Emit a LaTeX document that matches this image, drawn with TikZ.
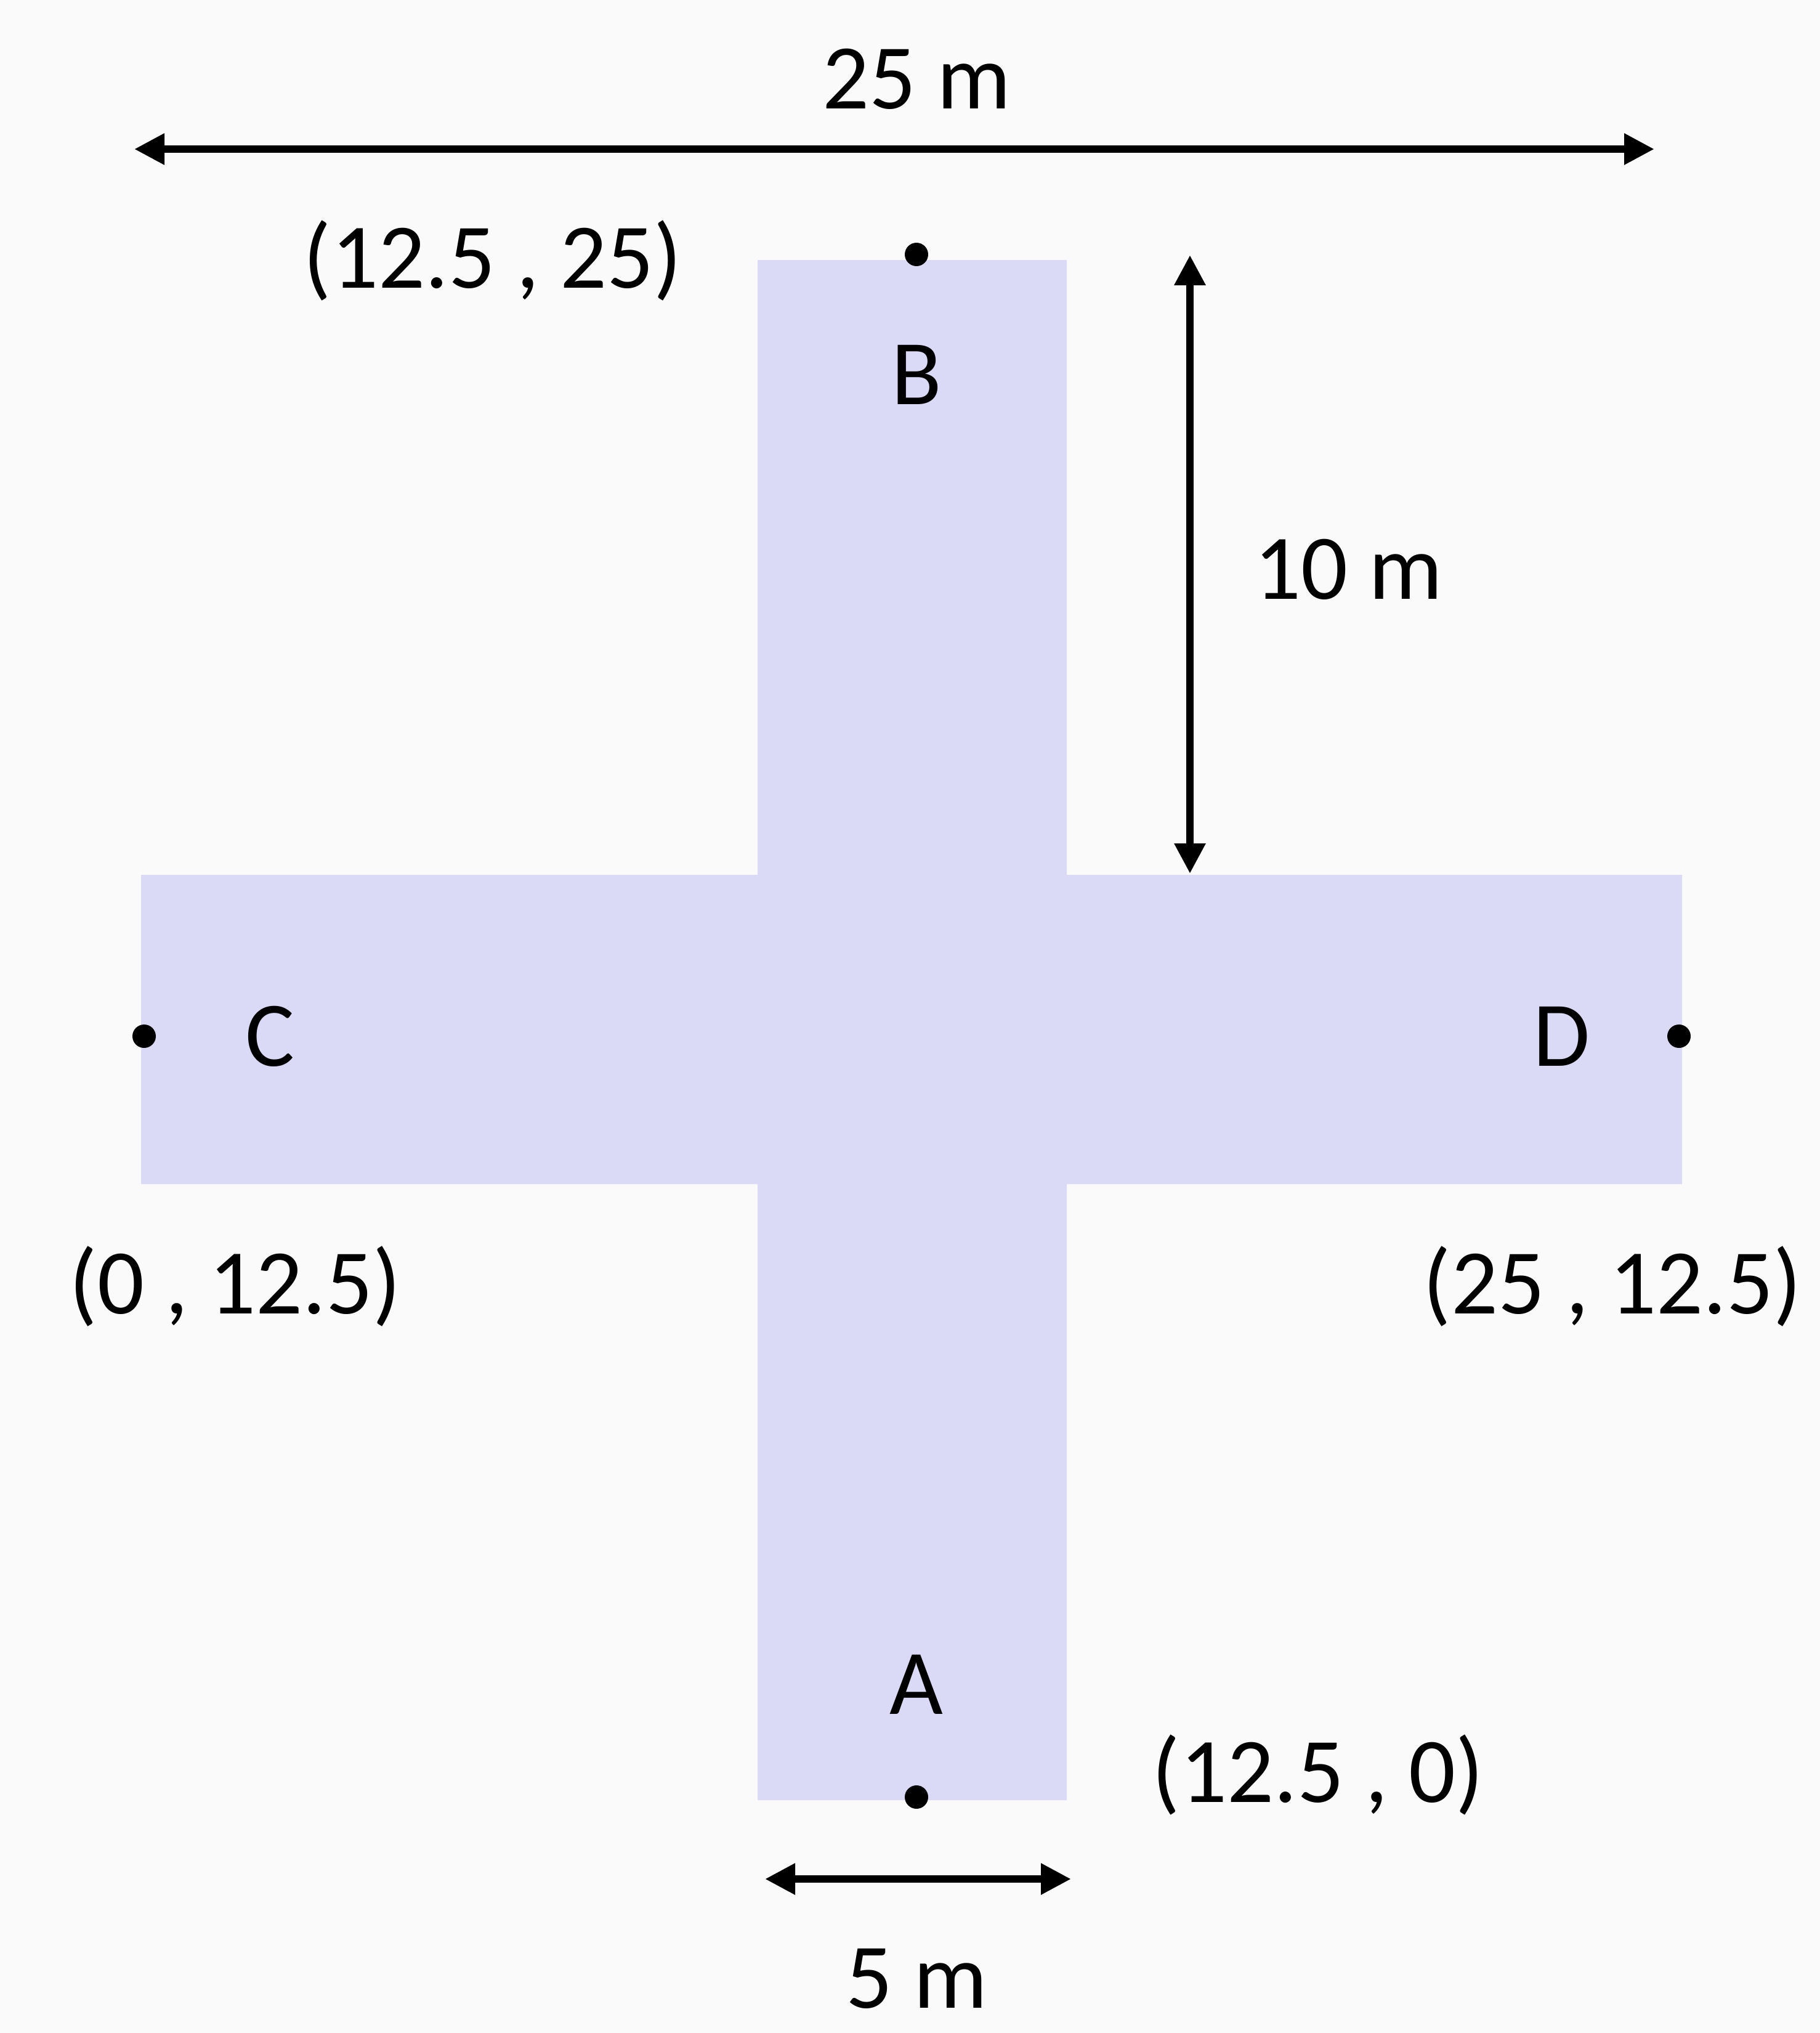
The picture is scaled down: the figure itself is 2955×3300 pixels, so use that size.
\documentclass[tikz,border=0pt]{standalone}
\usepackage{fontspec}
\setmainfont{Carlito}
\usetikzlibrary{arrows.meta}
\definecolor{bgc}{RGB}{250,250,250}
\definecolor{crossc}{RGB}{218,218,247}
\tikzset{
  lbl/.style={inner sep=0pt, font=\fontsize{37.5}{44}\selectfont, text=black},
  dimline/.style={line width=3pt, {Triangle[length=12.25pt 0 0,width=12pt 0 0]}-{Triangle[length=12.25pt 0 0,width=12pt 0 0]}},
  dotc/.style={fill=black},
}
\begin{document}
\begin{tikzpicture}[x=0.25pt,y=-0.25pt]
\fill[bgc] (0,0) rectangle (2955,3300);
\useasboundingbox (0,0) rectangle (2955,3300);
% cross
\fill[crossc] (1230,422) -- (1732,422) -- (1732,1420) -- (2731,1420) -- (2731,1922)
  -- (1732,1922) -- (1732,2922) -- (1230,2922) -- (1230,1922) -- (229,1922)
  -- (229,1420) -- (1230,1420) -- cycle;
% dots
\fill[dotc] (1488,413) circle (19);
\fill[dotc] (1488,2917) circle (19);
\fill[dotc] (234,1682) circle (19);
\fill[dotc] (2726,1682) circle (19);
% dimension arrows
\coordinate (tl) at (218,242);
\coordinate (tr) at (2686,242);
\coordinate (vt) at (1932,414);
\coordinate (vb) at (1932,1418);
\coordinate (bl) at (1242,3050);
\coordinate (br) at (1739,3050);
\draw[dimline] (tl) -- (tr);
\draw[dimline] (vt) -- (vb);
\draw[dimline] (bl) -- (br);
% labels
\node[lbl] (t25) at (1488,128) {25 m};
\node[lbl] (t10) at (2189,924) {10 m};
\node[lbl] (t5) at (1488,3212) {5 m};
\node[lbl] (lB) at (1488,608) {B};
\node[lbl] (lA) at (1488,2734) {A};
\node[lbl] (lC) at (438,1682) {C};
\node[lbl] (lD) at (2536,1682) {D};
\node[lbl] (cB) at (800,423) {(12.5 , 25)};
\node[lbl] (cC) at (382,2088) {(0 , 12.5)};
\node[lbl] (cD) at (2618,2088) {(25 , 12.5)};
\node[lbl] (cA) at (2140,2881) {(12.5 , 0)};
\end{tikzpicture}
\end{document}
